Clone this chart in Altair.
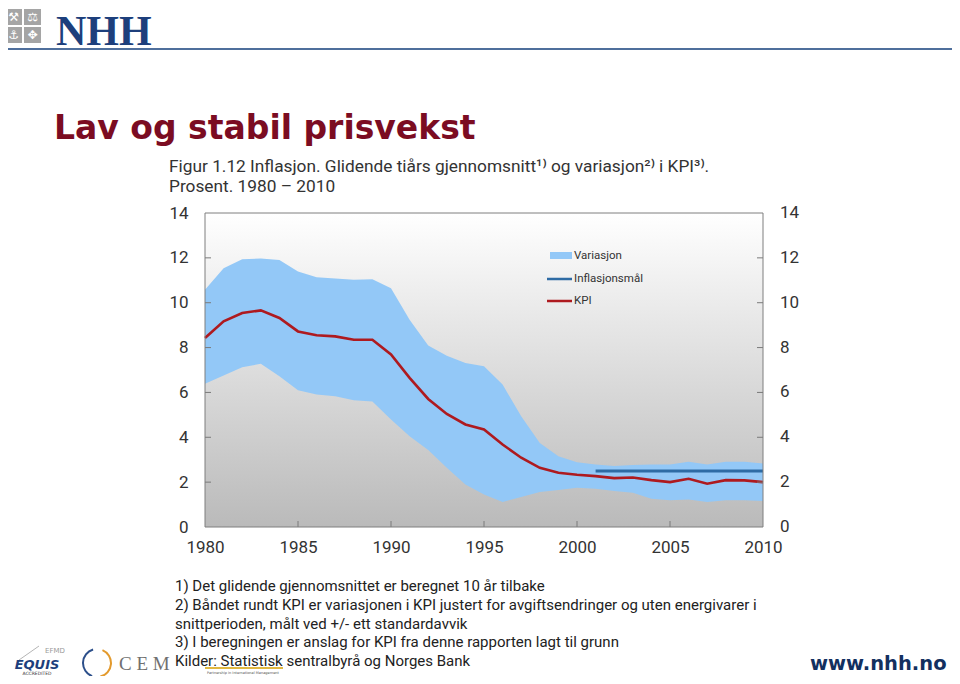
import altair as alt
import pandas as pd

# ---------------- data ----------------
years = list(range(1980, 2011))
kpi = [8.43, 9.17, 9.54, 9.66, 9.32, 8.72, 8.55, 8.50, 8.35, 8.35,
       7.69, 6.65, 5.71, 5.04, 4.57, 4.35, 3.68, 3.09, 2.64, 2.42,
       2.33, 2.27, 2.18, 2.21, 2.09, 2.00, 2.15, 1.93, 2.09, 2.08, 2.00]
upper = [10.58, 11.54, 11.94, 11.97, 11.91, 11.39, 11.14, 11.08, 11.02, 11.05,
         10.65, 9.24, 8.09, 7.64, 7.31, 7.17, 6.35, 4.94, 3.75, 3.16,
         2.89, 2.79, 2.72, 2.76, 2.79, 2.79, 2.91, 2.79, 2.91, 2.91, 2.83]
lower = [6.39, 6.75, 7.12, 7.28, 6.72, 6.10, 5.91, 5.83, 5.65, 5.59,
         4.79, 4.05, 3.43, 2.64, 1.90, 1.45, 1.11, 1.34, 1.56, 1.65,
         1.75, 1.71, 1.60, 1.53, 1.26, 1.19, 1.23, 1.11, 1.19, 1.19, 1.16]
target_years = [2001, 2010]
target_values = [2.5, 2.5]

x_label_years = [1980, 1985, 1990, 1995, 2000, 2005, 2010]
x_tick_years = [1985, 1990, 1995, 2000, 2005]
y_label_values = [0, 2, 4, 6, 8, 10, 12, 14]
y_tick_values = [2, 4, 6, 8, 10, 12]

slide_title = "Lav og stabil prisvekst"
figure_title = ["Figur 1.12 Inflasjon. Glidende tiårs gjennomsnitt¹⁾ og variasjon²⁾ i KPI³⁾.",
                "Prosent. 1980 – 2010"]
legend_labels = ["Variasjon", "Inflasjonsmål", "KPI"]
footnotes = [
    "1) Det glidende gjennomsnittet er beregnet 10 år tilbake",
    "2) Båndet rundt KPI er variasjonen i KPI justert for avgiftsendringer og uten energivarer i",
    "snittperioden, målt ved +/- ett standardavvik",
    "3) I beregningen er anslag for KPI fra denne rapporten lagt til grunn",
    "Kilder: Statistisk sentralbyrå og Norges Bank",
]

# ---------------- styling ----------------
W, H = 558, 314
BAND = "#93c8f7"
KPI_C = "#ae1a1f"
TARGET_C = "#2e6ba4"
TXT = "#333333"
AX_FONT = "Roboto"

df = pd.DataFrame({"year": years, "kpi": kpi, "upper": upper, "lower": lower})
target_df = pd.DataFrame({"year": target_years, "value": target_values})

xscale = alt.Scale(domain=[1980, 2010], nice=False, zero=False)
yscale = alt.Scale(domain=[0, 14], nice=False, zero=True)
xaxis = alt.Axis(values=x_label_years, format="d", title=None, labelPadding=12, labelFlush=False)
yaxis = alt.Axis(values=y_label_values, format="d", title=None, labelPadding=17, labelFlush=False)

one = pd.DataFrame({"k": [0]})


def txt(s, x, y, size, color=TXT, font=AX_FONT, weight="normal", align="left",
        baseline="alphabetic", style="normal"):
    return alt.Chart(pd.DataFrame({"s": [s]})).mark_text(
        font=font, fontSize=size, fontWeight=weight, color=color, align=align,
        baseline=baseline, fontStyle=style
    ).encode(x=alt.value(x), y=alt.value(y), text="s:N")


def box(x, x2, y, y2, color):
    return alt.Chart(one).mark_rect(color=color).encode(
        x=alt.value(x), x2=alt.value(x2), y=alt.value(y), y2=alt.value(y2))


def seg(x, x2, y, y2, color, width):
    return alt.Chart(one).mark_rule(color=color, strokeWidth=width).encode(
        x=alt.value(x), x2=alt.value(x2), y=alt.value(y), y2=alt.value(y2))


layers = []

# gradient plot background
layers.append(alt.Chart(one).mark_rect(
    fill=alt.LinearGradient(
        gradient="linear",
        stops=[alt.GradientStop(color="#ffffff", offset=0),
               alt.GradientStop(color="#bababa", offset=1)],
        x1=0, x2=0, y1=0, y2=1)
).encode(x=alt.value(0), x2=alt.value(W), y=alt.value(0), y2=alt.value(H)))

# band
layers.append(alt.Chart(df).mark_area(color=BAND, opacity=1).encode(
    x=alt.X("year:Q", scale=xscale, axis=xaxis),
    y=alt.Y("upper:Q", scale=yscale, axis=yaxis),
    y2="lower:Q"))

# KPI line
layers.append(alt.Chart(df).mark_line(color=KPI_C, strokeWidth=2.6).encode(
    x=alt.X("year:Q", scale=xscale, axis=xaxis),
    y=alt.Y("kpi:Q", scale=yscale, axis=yaxis)))

# inflation target
layers.append(alt.Chart(target_df).mark_line(color=TARGET_C, strokeWidth=3).encode(
    x=alt.X("year:Q", scale=xscale, axis=xaxis),
    y=alt.Y("value:Q", scale=yscale, axis=yaxis)))

# inner ticks
xt = pd.DataFrame({"t": x_tick_years})
yt = pd.DataFrame({"t": y_tick_values})
layers.append(alt.Chart(xt).mark_rule(color="#7a7a7a").encode(
    x=alt.X("t:Q", scale=xscale, axis=xaxis), y=alt.value(H), y2=alt.value(H - 6)))
layers.append(alt.Chart(yt).mark_rule(color="#7a7a7a").encode(
    y=alt.Y("t:Q", scale=yscale, axis=yaxis), x=alt.value(0), x2=alt.value(6)))
layers.append(alt.Chart(yt).mark_rule(color="#7a7a7a").encode(
    y=alt.Y("t:Q", scale=yscale, axis=yaxis), x=alt.value(W - 6), x2=alt.value(W)))

# right axis labels
layers.append(alt.Chart(pd.DataFrame({"v": y_label_values})).mark_text(
    font=AX_FONT, fontSize=17, color=TXT, align="left", baseline="middle"
).encode(y=alt.Y("v:Q", scale=yscale, axis=yaxis), x=alt.value(W + 17), text="v:Q"))

# frame
layers.append(alt.Chart(one).mark_rect(fillOpacity=0, stroke="#7f7f7f", strokeWidth=1).encode(
    x=alt.value(0), x2=alt.value(W), y=alt.value(0), y2=alt.value(H)))

# legend
layers.append(box(345, 367, 39, 46, BAND))
layers.append(seg(342, 367, 66, 66, TARGET_C, 2.5))
layers.append(seg(342, 367, 88, 88, KPI_C, 2.5))
for i, lab in enumerate(legend_labels):
    layers.append(txt(lab, 369, [43, 66, 88][i], 11.5, baseline="middle"))

# figure title
layers.append(txt(figure_title[0], -36, -41, 17.3, font=AX_FONT))
layers.append(txt(figure_title[1], -36, -21, 17.3, font=AX_FONT))

# slide title
layers.append(txt(slide_title, -151, -74, 33, color="#7b0c22", font="DejaVu Sans", weight="bold"))

# header: NHH logo + rule
sq = "#a5a5a5"
layers.append(box(-200, -183, -204, -188, sq))
layers.append(box(-181, -164, -204, -188, sq))
layers.append(box(-200, -183, -186, -170, sq))
layers.append(box(-181, -164, -186, -170, sq))
for s, cx, cy in [("⚒", -191.5, -196), ("⚖", -172.5, -196), ("⚓", -191.5, -178), ("✥", -172.5, -178)]:
    layers.append(txt(s, cx, cy, 12, color="#ffffff", font="DejaVu Sans", align="center", baseline="middle"))
layers.append(txt("NHH", -149, -168, 42, color="#1d3f7c", font="Liberation Serif", weight="bold"))
layers.append(seg(-200, 752, -164, -164, "#4f6f9c", 2))

# footnotes
for i, line in enumerate(footnotes):
    layers.append(txt(line, -30, 373 + i * 18.8, 15, color="#222222", font=AX_FONT, baseline="middle"))

# bottom logos
layers.append(seg(-186, -166, 447, 433, "#b5b5b5", 1))
layers.append(txt("EFMD", -150, 438, 7, color="#9a9a9a", font="DejaVu Sans", align="center", baseline="middle"))
layers.append(txt("EQUIS", -168, 452, 13, color="#1d3f7c", font="DejaVu Sans", weight="bold",
                  align="center", baseline="middle", style="italic"))
layers.append(txt("ACCREDITED", -168, 461, 4.5, color="#333333", font="DejaVu Sans",
                  align="center", baseline="middle"))
layers.append(alt.Chart(one).mark_arc(color="#2c4f8a", radius=15, radius2=13, theta=3.5, theta2=6.0).encode(
    x=alt.value(-108), y=alt.value(450)))
layers.append(alt.Chart(one).mark_arc(color="#e39a2d", radius=15, radius2=13, theta=0.4, theta2=2.9).encode(
    x=alt.value(-108), y=alt.value(450)))
layers.append(txt("C E M", -86, 451, 19, color="#707070", font="Liberation Serif", baseline="middle"))
layers.append(seg(0, 78, 455, 455, "#e0b840", 2))
layers.append(txt("Partnership in International Management", 2, 459.5, 3.5, color="#555555",
                  font="DejaVu Sans", baseline="middle"))

layers.append(txt("www.nhh.no", 605, 451, 19.5, color="#13305f", font="DejaVu Sans", weight="bold",
                  baseline="middle"))

chart = alt.layer(*layers).properties(
    width=W, height=H,
    autosize=alt.AutoSizeParams(type="none"),
    padding={"left": 197, "top": 205, "right": 189, "bottom": 149},
    background="#ffffff",
).configure_view(strokeWidth=0).configure_axis(
    grid=False, domain=False, ticks=False, labelFont=AX_FONT, labelFontSize=17,
    labelColor=TXT, titleFontSize=1
)

chart.save("out.html", embed_options={"renderer": "svg", "actions": False})
